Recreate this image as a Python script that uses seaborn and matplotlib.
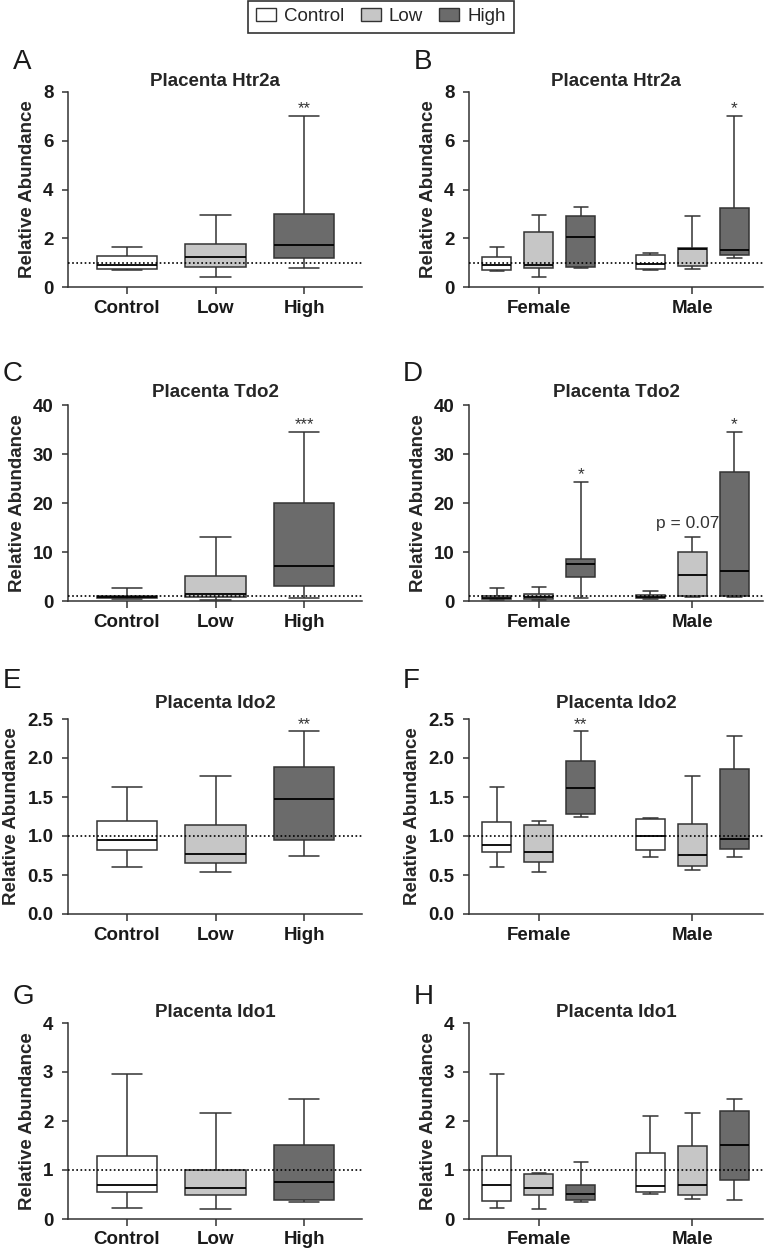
import numpy as np
import pandas as pd
import seaborn as sns
import matplotlib.pyplot as plt
from matplotlib.patches import Patch
from matplotlib.ticker import FormatStrFormatter

# ====================================================
# DATA (five-number summaries:
# min, q1, median, q3, max  -> whiskers are min/max)
# ====================================================

groups = ["Control", "Low", "High"]
sexes = ["Female", "Male"]
colors = ["#ffffff", "#c6c6c6", "#6b6b6b"]

htr2a_all = [[0.68, 0.72, 0.92, 1.28, 1.65],
             [0.42, 0.83, 1.23, 1.78, 2.95],
             [0.78, 1.20, 1.73, 3.00, 7.00]]
htr2a_female = [[0.65, 0.68, 0.90, 1.22, 1.65],
                [0.42, 0.78, 0.90, 2.25, 2.95],
                [0.80, 0.82, 2.05, 2.90, 3.27]]
htr2a_male = [[0.70, 0.72, 0.95, 1.33, 1.38],
              [0.75, 0.85, 1.55, 1.60, 2.90],
              [1.20, 1.30, 1.50, 3.25, 7.00]]

tdo2_all = [[0.40, 0.60, 0.85, 1.10, 2.60],
            [0.30, 0.80, 1.50, 5.20, 13.0],
            [0.60, 3.00, 7.10, 20.0, 34.5]]
tdo2_female = [[0.30, 0.50, 0.70, 1.00, 2.60],
               [0.20, 0.50, 0.90, 1.50, 2.90],
               [0.60, 5.00, 7.60, 8.60, 24.3]]
tdo2_male = [[0.40, 0.60, 0.90, 1.20, 2.00],
             [0.80, 1.00, 5.30, 10.0, 13.0],
             [0.90, 1.10, 6.20, 26.3, 34.5]]

ido2_all = [[0.60, 0.82, 0.95, 1.19, 1.63],
            [0.54, 0.66, 0.77, 1.14, 1.77],
            [0.74, 0.95, 1.47, 1.88, 2.34]]
ido2_female = [[0.60, 0.79, 0.89, 1.18, 1.63],
               [0.54, 0.67, 0.79, 1.14, 1.19],
               [1.25, 1.28, 1.61, 1.96, 2.34]]
ido2_male = [[0.73, 0.82, 1.00, 1.22, 1.23],
             [0.57, 0.61, 0.76, 1.15, 1.77],
             [0.73, 0.83, 0.96, 1.86, 2.28]]

ido1_all = [[0.22, 0.55, 0.69, 1.29, 2.96],
            [0.20, 0.50, 0.64, 1.01, 2.16],
            [0.35, 0.39, 0.75, 1.51, 2.45]]
ido1_female = [[0.22, 0.36, 0.70, 1.28, 2.96],
               [0.20, 0.48, 0.63, 0.91, 0.93],
               [0.35, 0.39, 0.51, 0.69, 1.16]]
ido1_male = [[0.52, 0.55, 0.68, 1.35, 2.11],
             [0.40, 0.50, 0.70, 1.50, 2.17],
             [0.38, 0.80, 1.52, 2.21, 2.45]]

# significance labels (per group, pooled) and (per sex, per group)
htr2a_all_sig = ["", "", "**"]
htr2a_sex_sig = [["", "", ""], ["", "", "*"]]
tdo2_all_sig = ["", "", "***"]
tdo2_sex_sig = [["", "", "*"], ["", "p = 0.07", "*"]]
ido2_all_sig = ["", "", "**"]
ido2_sex_sig = [["", "", "**"], ["", "", ""]]
ido1_all_sig = ["", "", ""]
ido1_sex_sig = [["", "", ""], ["", "", ""]]

genes = ["Htr2a", "Tdo2", "Ido2", "Ido1"]
yticks = [[0, 2, 4, 6, 8], [0, 10, 20, 30, 40],
          [0, 0.5, 1.0, 1.5, 2.0, 2.5], [0, 1, 2, 3, 4]]

# ====================================================
# BUILD LONG-FORM TABLES
# ====================================================

def pooled_frame(values):
    rows = []
    for g, vals in zip(groups, values):
        for v in vals:
            rows.append({"group": g, "value": v})
    return pd.DataFrame(rows)


def sex_frame(female, male):
    rows = []
    for sex, block in zip(sexes, [female, male]):
        for g, vals in zip(groups, block):
            for v in vals:
                rows.append({"sex": sex, "group": g, "value": v})
    return pd.DataFrame(rows)


pooled = [htr2a_all, tdo2_all, ido2_all, ido1_all]
by_sex = [(htr2a_female, htr2a_male), (tdo2_female, tdo2_male),
          (ido2_female, ido2_male), (ido1_female, ido1_male)]
pooled_sig = [htr2a_all_sig, tdo2_all_sig, ido2_all_sig, ido1_all_sig]
sex_sig = [htr2a_sex_sig, tdo2_sex_sig, ido2_sex_sig, ido1_sex_sig]

# ====================================================
# STYLE
# ====================================================

sns.set_theme(style="ticks")
plt.rcParams["font.family"] = ["Liberation Sans", "DejaVu Sans"]
plt.rcParams["axes.edgecolor"] = "#333333"
plt.rcParams["axes.linewidth"] = 1.1
plt.rcParams["xtick.color"] = "#333333"
plt.rcParams["ytick.color"] = "#333333"
plt.rcParams["xtick.labelcolor"] = "#1a1a1a"
plt.rcParams["ytick.labelcolor"] = "#1a1a1a"
plt.rcParams["xtick.major.size"] = 5
plt.rcParams["ytick.major.size"] = 4
plt.rcParams["xtick.major.width"] = 1.1
plt.rcParams["ytick.major.width"] = 1.1

EDGE = "#333333"
W, H = 764, 1254

fig = plt.figure(figsize=(W / 100, H / 100), dpi=100)

# axes boxes in pixels: (top, bottom) per row
rows_px = [(92, 287), (405, 601), (719, 914), (1023, 1219)]
left_px = (68, 362)
right_px = (469, 763)
title_pad = [4.0, 5.5, 8.0, 4.5]
letters = [("A", "B"), ("C", "D"), ("E", "F"), ("G", "H")]
letter_x = [(13, 414), (3, 403), (3, 403), (13, 414)]
letter_y = [62, 374, 681, 997]


def add_ax(xpx, ypx):
    x0 = xpx[0] / W
    w = (xpx[1] - xpx[0]) / W
    y0 = 1 - ypx[1] / H
    h = (ypx[1] - ypx[0]) / H
    return fig.add_axes([x0, y0, w, h])


def finish(ax, i):
    ax.set_ylim(yticks[i][0], yticks[i][-1])
    ax.set_yticks(yticks[i])
    if i == 2:
        ax.yaxis.set_major_formatter(FormatStrFormatter("%.1f"))
    ax.axhline(1, color="black", ls=(0, (1, 1.5)), lw=1.2, zorder=10)
    ax.set_xlabel("")
    ax.set_ylabel("Relative Abundance", fontsize=13.5,
                  fontweight="bold", labelpad=5)
    ax.set_title("Placenta " + genes[i], fontsize=13.5,
                 fontweight="bold", pad=title_pad[i])
    ax.tick_params(axis="x", labelsize=13.5, pad=4)
    ax.tick_params(axis="y", labelsize=13.5, pad=6.5)
    for lab in ax.get_xticklabels() + ax.get_yticklabels():
        lab.set_fontweight("bold")
    sns.despine(ax=ax)


box_kws = dict(
    whis=(0, 100),
    showfliers=False,
    saturation=1,
    linecolor=EDGE,
    linewidth=1.1,
    medianprops={"color": "black", "linewidth": 1.3},
)

for i in range(4):
    # ---------------- pooled panel ----------------
    ax = add_ax(left_px, rows_px[i])
    df = pooled_frame(pooled[i])
    sns.boxplot(data=df, x="group", y="value", hue="group",
                order=groups, hue_order=groups, palette=colors,
                width=0.68, legend=False, ax=ax, **box_kws)
    ax.set_xlim(-0.667, 2.655)
    for j, lab in enumerate(pooled_sig[i]):
        if lab:
            ax.annotate(lab, xy=(j, max(pooled[i][j])), xytext=(0, 2),
                        textcoords="offset points", ha="center",
                        va="baseline", fontsize=12, color="#333333")
    finish(ax, i)

    # ---------------- by-sex panel ----------------
    ax = add_ax(right_px, rows_px[i])
    df = sex_frame(*by_sex[i])
    sns.boxplot(data=df, x="sex", y="value", hue="group",
                order=sexes, hue_order=groups, palette=colors,
                width=0.82, gap=0.31, legend=False, ax=ax, **box_kws)
    ax.set_xlim(-0.455, 1.46)
    step = 0.82 / 3
    for s in range(2):
        for j, lab in enumerate(sex_sig[i][s]):
            if lab:
                top = max(by_sex[i][s][j])
                off = 7 if lab.startswith("p") else 2
                dx = -0.03 if lab.startswith("p") else 0
                ax.annotate(lab, xy=(s + (j - 1) * step + dx, top),
                            xytext=(0, off), textcoords="offset points",
                            ha="center", va="baseline", fontsize=12.5,
                            color="#333333")
    finish(ax, i)

    # panel letters
    for k in range(2):
        fig.text(letter_x[i][k] / W, 1 - letter_y[i] / H, letters[i][k],
                 fontsize=20, ha="left", va="center", color="#1a1a1a")

# ====================================================
# LEGEND
# ====================================================

handles = [Patch(facecolor=c, edgecolor=EDGE, linewidth=1.0, label=g)
           for g, c in zip(groups, colors)]
leg = fig.legend(handles=handles, loc="upper center",
                 bbox_to_anchor=(381 / W, 0.9995), ncol=3,
                 frameon=True, fancybox=False, edgecolor=EDGE,
                 fontsize=13.5, handlelength=1.07, handleheight=0.65,
                 handletextpad=0.45, columnspacing=0.85,
                 borderpad=0.4, borderaxespad=0)
leg.get_frame().set_linewidth(1.2)
leg.get_frame().set_alpha(1)

plt.savefig("out.png", dpi=100)
